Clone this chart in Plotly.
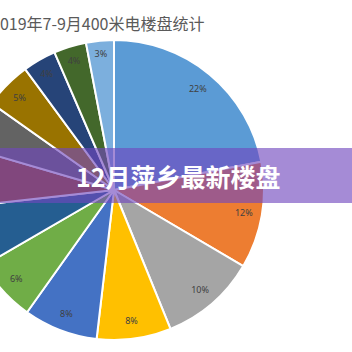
import plotly.graph_objects as go

# ---- data ----
shares = [22, 11.5, 10.4, 8.0, 8.0, 6.8, 6.6, 6.3, 5.3, 5.1, 3.6, 3.5, 3.0]
# labels of slices whose label falls outside the visible window are left empty
share_labels = ["22%", "12%", "10%", "8%", "8%", "6%", "", "", "", "5%", "4%", "4%", "3%"]
slice_names = ["楼盘1", "楼盘2", "楼盘3", "楼盘4", "楼盘5", "楼盘6", "楼盘7",
               "楼盘8", "楼盘9", "楼盘10", "楼盘11", "楼盘12", "楼盘13"]
slice_colors = ["#5B9BD5", "#ED7D31", "#A5A5A5", "#FFC000", "#4472C4", "#70AD47",
                "#255E91", "#9E480E", "#636363", "#997300", "#264478", "#43682B", "#7CAFDD"]
chart_title = "2019年7-9月400米电楼盘统计"
banner_text = "12月萍乡最新楼盘"

# ---- geometry (figure is wider than the window and shifted left) ----
SHIFT = 40
W, H = 352 + SHIFT, 352
cx, cy, r = 114 + SHIFT, 190, 150
dom_x = [(cx - r) / W, (cx + r) / W]
dom_y = [(H - cy - r) / H, (H - cy + r) / H]

fig = go.Figure()
fig.add_trace(go.Pie(
    labels=slice_names, values=shares, sort=False, direction="clockwise", rotation=0,
    marker=dict(colors=slice_colors, line=dict(color="white", width=2)),
    textinfo="none", hoverinfo="skip", showlegend=False,
    domain=dict(x=dom_x, y=dom_y),
))
# transparent ring carrying the labels near the outer edge
fig.add_trace(go.Pie(
    labels=slice_names, values=shares, sort=False, direction="clockwise", rotation=0,
    hole=0.76,
    marker=dict(colors=["rgba(0,0,0,0)"] * len(shares), line=dict(width=0)),
    text=share_labels, textinfo="text", textposition="inside",
    insidetextorientation="horizontal",
    textfont=dict(family="Noto Sans", size=9, color="#404040"),
    hoverinfo="skip", showlegend=False,
    domain=dict(x=dom_x, y=dom_y),
))

fig.add_shape(type="rect", xref="paper", yref="paper",
              x0=0, x1=1, y0=(H - 203) / H, y1=(H - 148) / H,
              fillcolor="rgba(113,72,190,0.63)", line=dict(width=0), layer="above")

fig.add_annotation(text=chart_title, xref="paper", yref="paper",
                   x=(97 + SHIFT) / W, y=(H - 23) / H, xanchor="center", yanchor="middle",
                   showarrow=False,
                   font=dict(family="Noto Sans CJK SC", size=16, color="#5a5a5a"))
fig.add_annotation(text="<b>" + banner_text + "</b>", xref="paper", yref="paper",
                   x=(178 + SHIFT) / W, y=(H - 175.5) / H, xanchor="center", yanchor="middle",
                   showarrow=False,
                   font=dict(family="Noto Sans CJK SC", size=25, color="white"))

fig.update_layout(width=W, height=H, margin=dict(l=0, r=0, t=0, b=0),
                  paper_bgcolor="white", plot_bgcolor="white")

fig.write_html("out.html",
               post_script="document.body.style.margin='0';"
                           "var d=document.getElementById('{plot_id}');"
                           "d.style.marginLeft='-" + str(SHIFT) + "px';")
